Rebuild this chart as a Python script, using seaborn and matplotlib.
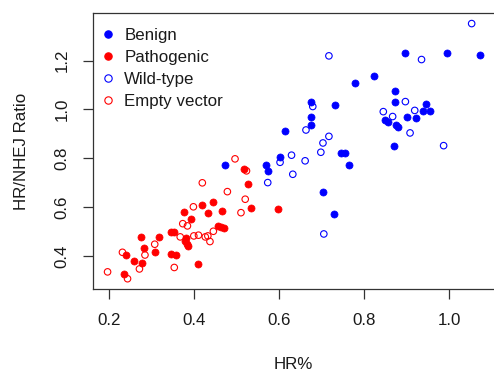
import matplotlib
matplotlib.use("Agg")
import matplotlib.pyplot as plt
from matplotlib.lines import Line2D
import seaborn as sns
import pandas as pd

# ---- data ----
benign_x = [0.473, 0.568, 0.573, 0.603, 0.613, 0.674, 0.674, 0.674, 0.731, 0.745,
            0.756, 0.764, 0.702, 0.729, 0.779, 0.824, 0.872, 0.872, 0.945, 0.939,
            0.956, 0.901, 0.922, 0.850, 0.856, 0.876, 0.880, 0.870, 0.895, 0.996, 1.072]
benign_y = [0.771, 0.774, 0.749, 0.804, 0.912, 1.032, 0.968, 0.936, 1.018, 0.821,
            0.821, 0.772, 0.664, 0.574, 1.109, 1.137, 1.077, 1.032, 1.023, 0.993,
            0.995, 0.970, 0.966, 0.957, 0.948, 0.936, 0.928, 0.851, 1.232, 1.232, 1.224]

wild_x = [0.573, 0.602, 0.629, 0.632, 0.661, 0.663, 0.679, 0.698, 0.703, 0.717,
          0.717, 0.705, 0.845, 0.867, 0.897, 0.919, 0.908, 0.987, 0.935, 1.053]
wild_y = [0.701, 0.784, 0.813, 0.735, 0.790, 0.916, 1.012, 0.825, 0.863, 0.890,
          1.219, 0.491, 0.991, 0.971, 1.032, 0.996, 0.904, 0.852, 1.204, 1.351]

patho_x = [0.517, 0.526, 0.445, 0.419, 0.533, 0.466, 0.432, 0.375, 0.393, 0.456,
           0.463, 0.469, 0.346, 0.353, 0.380, 0.378, 0.382, 0.385, 0.275, 0.316,
           0.281, 0.308, 0.240, 0.259, 0.278, 0.346, 0.356, 0.410, 0.235, 0.598]
patho_y = [0.757, 0.697, 0.623, 0.611, 0.596, 0.583, 0.576, 0.579, 0.551, 0.525,
           0.520, 0.515, 0.499, 0.501, 0.473, 0.461, 0.449, 0.440, 0.479, 0.479,
           0.433, 0.418, 0.405, 0.380, 0.373, 0.411, 0.405, 0.367, 0.328, 0.592]

empty_x = [0.496, 0.523, 0.419, 0.478, 0.520, 0.398, 0.510, 0.373, 0.384, 0.445,
           0.367, 0.399, 0.410, 0.426, 0.432, 0.437, 0.307, 0.284, 0.231, 0.271,
           0.353, 0.196, 0.243]
empty_y = [0.798, 0.749, 0.700, 0.664, 0.633, 0.602, 0.578, 0.533, 0.524, 0.502,
           0.479, 0.483, 0.486, 0.479, 0.483, 0.460, 0.449, 0.405, 0.416, 0.348,
           0.354, 0.336, 0.308]

groups = ["Benign", "Pathogenic", "Wild-type", "Empty vector"]
x_ticks = [0.2, 0.4, 0.6, 0.8, 1.0]
y_ticks = [0.4, 0.6, 0.8, 1.0, 1.2]

df = pd.concat([
    pd.DataFrame({"HR": benign_x, "Ratio": benign_y, "group": "Benign"}),
    pd.DataFrame({"HR": patho_x, "Ratio": patho_y, "group": "Pathogenic"}),
    pd.DataFrame({"HR": wild_x, "Ratio": wild_y, "group": "Wild-type"}),
    pd.DataFrame({"HR": empty_x, "Ratio": empty_y, "group": "Empty vector"}),
], ignore_index=True)

style = {
    "Benign": dict(color="#0000FF", filled=True),
    "Pathogenic": dict(color="#FF0000", filled=True),
    "Wild-type": dict(color="#0000FF", filled=False),
    "Empty vector": dict(color="#FF0000", filled=False),
}

sns.set_theme(style="white")
plt.rcParams["font.family"] = ["Liberation Sans", "DejaVu Sans"]
txt = "#1a1a1a"

fig = plt.figure(figsize=(4.94, 3.74), dpi=100)
W, H = 494, 374
l, r, t, b = 92.7, 494.6, 13.3, 289.0
ax = fig.add_axes([l / W, 1 - b / H, (r - l) / W, (b - t) / H])

for g in groups:
    s = style[g]
    sub = df[df["group"] == g]
    if s["filled"]:
        sns.scatterplot(data=sub, x="HR", y="Ratio", ax=ax, color=s["color"],
                        edgecolor=s["color"], linewidth=0.5, s=26, marker="o",
                        legend=False, zorder=3)
    else:
        sns.scatterplot(data=sub, x="HR", y="Ratio", ax=ax, color=s["color"],
                        facecolor="none", edgecolor=s["color"], linewidth=0.8,
                        s=22, marker="o", legend=False, zorder=3)

ax.set_xlim(0.161, 1.107)
ax.set_ylim(0.266, 1.393)
ax.set_xticks(x_ticks)
ax.set_xticklabels([f"{v:.1f}" for v in x_ticks])
ax.set_yticks(y_ticks)
ax.set_yticklabels([f"{v:.1f}" for v in y_ticks], rotation=90, va="center")

for sp in ax.spines.values():
    sp.set_color("#333333")
    sp.set_linewidth(0.9)
ax.tick_params(axis="both", which="major", direction="out", length=7.5,
               width=0.9, color="#333333", labelsize=12.2, labelcolor=txt,
               bottom=True, left=True)
ax.tick_params(axis="x", pad=10)
ax.tick_params(axis="y", pad=9)

ax.set_xlabel("HR%", fontsize=12.2, color=txt, labelpad=20.5)
ax.set_ylabel("HR/NHEJ Ratio", fontsize=12.2, color=txt, labelpad=18.5)

handles = []
for g in groups:
    s = style[g]
    handles.append(Line2D([], [], linestyle="none", marker="o", markersize=5.3,
                          markerfacecolor=s["color"] if s["filled"] else "none",
                          markeredgecolor=s["color"], markeredgewidth=0.8))
ax.legend(handles, groups, loc="upper left", bbox_to_anchor=(-0.016, 1.0),
          frameon=False, fontsize=12.2, handlelength=0.9, handletextpad=0.5,
          labelspacing=0.42, borderaxespad=0.45, labelcolor=txt)

fig.savefig("out.png", dpi=100)
